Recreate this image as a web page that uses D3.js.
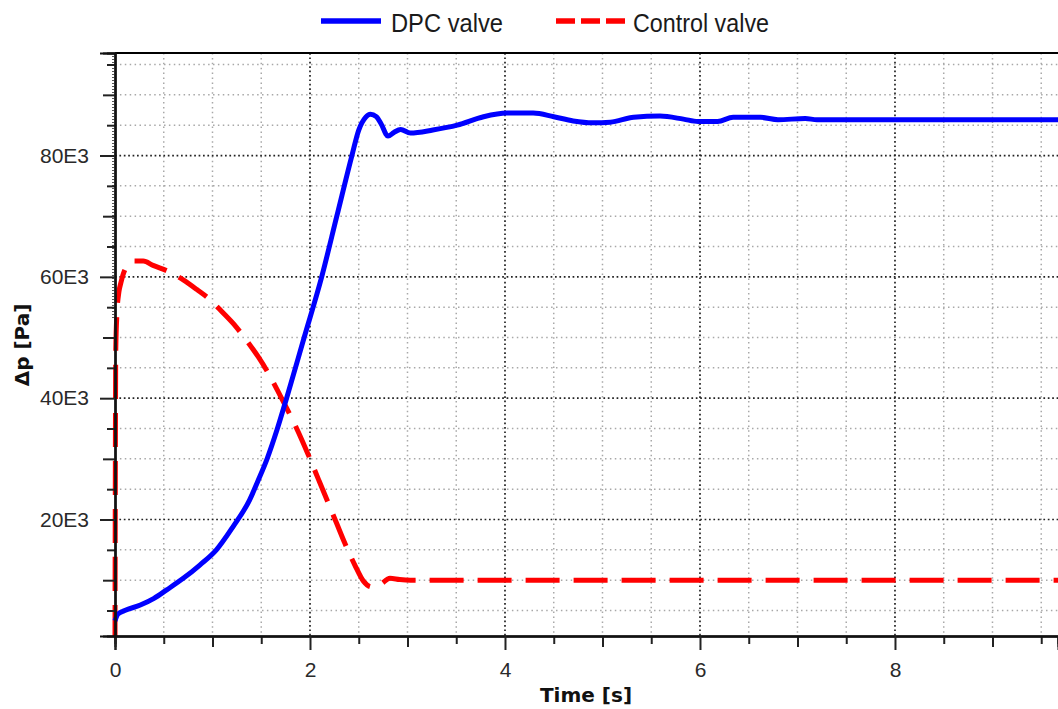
<!DOCTYPE html>
<html><head><meta charset="utf-8">
<script src="https://cdn.jsdelivr.net/npm/d3@7"></script>
<style>
html,body{margin:0;padding:0;background:#fff;}
svg{display:block;}
</style></head>
<body>
<svg id="chart" width="1058" height="709"></svg>
<script>
// ---- data (time in s, pressure difference in Pa) ----
const dpcTime = [0,0.03,0.1,0.26,0.4,0.53,0.7,0.87,1.04,1.21,1.38,1.47,1.56,1.66,1.76,1.94,2.12,2.275,2.43,2.50,2.57,2.62,2.68,2.73,2.80,2.86,2.93,3.03,3.26,3.51,3.78,4.02,4.29,4.5,4.7,4.9,5.08,5.32,5.59,5.83,5.98,6.18,6.34,6.62,6.8,7.08,7.2,9.7];
const dpcValue = [3300,4400,5000,5900,7000,8400,10300,12500,15000,18800,23200,26500,30000,34700,40000,50000,60000,70000,80000,84200,86300,86800,86400,85200,83200,83800,84300,83700,84200,85000,86400,87000,87000,86400,85700,85400,85500,86300,86500,86000,85600,85600,86300,86300,85900,86100,85900,85900];
const ctrlTime = [0,0.008,0.02,0.04,0.06,0.1,0.19,0.29,0.39,0.56,0.70,0.84,0.97,1.1,1.24,1.36,1.47,1.57,1.66,1.75,1.84,1.92,2.0,2.09,2.18,2.27,2.36,2.46,2.55,2.63,2.72,2.82,2.92,3.03,9.7];
const ctrlValue = [300,48000,54000,57500,59000,61100,62600,62600,61900,60800,59500,57900,56300,54200,51800,49300,46800,44200,41500,38700,35800,33000,30000,26500,23000,19500,16000,12500,9800,8900,9300,10300,10100,10000,10000];
const seriesNames = ["DPC valve","Control valve"];
const xMajorTicks = [0,2,4,6,8];
const yMajorTicks = [20000,40000,60000,80000];

const svg = d3.select("#chart");
const L = 115, R = 1058, T = 53, B = 636;
const x = d3.scaleLinear().domain([0, 9.672]).range([L, R]);
const y = d3.scaleLinear().domain([800, 96900]).range([B, T]);

const xHalf = d3.range(0, 9.7, 0.5);
const yFive = d3.range(5000, 96000, 5000);

// grid
const grid = svg.append("g");
grid.selectAll(".vg").data(xHalf.filter(v => v > 0 && v % 2 !== 0)).join("line")
  .attr("x1", d => x(d)).attr("x2", d => x(d)).attr("y1", T).attr("y2", B)
  .attr("stroke", "#a8a8a8").attr("stroke-width", 1.5).attr("stroke-dasharray", "1.5,3.4");
grid.selectAll(".hg").data(yFive.filter(v => v % 20000 !== 0)).join("line")
  .attr("x1", L).attr("x2", R).attr("y1", d => y(d)).attr("y2", d => y(d))
  .attr("stroke", "#a8a8a8").attr("stroke-width", 1.5).attr("stroke-dasharray", "1.5,3.4");
grid.selectAll(".vgm").data(xMajorTicks.filter(v => v > 0)).join("line")
  .attr("x1", d => x(d)).attr("x2", d => x(d)).attr("y1", T).attr("y2", B)
  .attr("stroke", "#222").attr("stroke-width", 1.7).attr("stroke-dasharray", "1.7,2.7");
grid.selectAll(".hgm").data(yMajorTicks).join("line")
  .attr("x1", L).attr("x2", R).attr("y1", d => y(d)).attr("y2", d => y(d))
  .attr("stroke", "#222").attr("stroke-width", 1.7).attr("stroke-dasharray", "1.7,2.7");
// dotted strip along the left axis (top part)
grid.append("line").attr("x1", L - 2).attr("x2", L - 2).attr("y1", T).attr("y2", 320)
  .attr("stroke", "#222").attr("stroke-width", 1.5).attr("stroke-dasharray", "1,2");

// clip
svg.append("clipPath").attr("id", "clip").append("rect")
  .attr("x", L - 3).attr("y", T).attr("width", R - L + 3).attr("height", B - T);

const line = d3.line().x(d => x(d[0])).y(d => y(d[1])).curve(d3.curveMonotoneX);
const plot = svg.append("g").attr("clip-path", "url(#clip)");
plot.append("path").datum(ctrlTime.map((t, i) => [t, ctrlValue[i]]))
  .attr("d", line).attr("fill", "none").attr("stroke", "#ff0000").attr("stroke-width", 5)
  .attr("stroke-dasharray", "34,14");
plot.append("path").datum(dpcTime.map((t, i) => [t, dpcValue[i]]))
  .attr("d", line).attr("fill", "none").attr("stroke", "#0000ff").attr("stroke-width", 5);

// axes frame
svg.append("line").attr("x1", L).attr("x2", R).attr("y1", T).attr("y2", T).attr("stroke", "#000").attr("stroke-width", 2);

function styleAxis(g) {
  g.select(".domain").attr("stroke", "#111").attr("stroke-width", 2);
  g.selectAll(".tick line").attr("stroke", "#222").attr("stroke-width", 2);
  g.selectAll(".tick text").attr("fill", "#2a2a2a").style("font-family", "'Liberation Sans', Arial, sans-serif").style("font-size", "21px");
}
// x axis: half, unit, major ticks
svg.append("g").attr("transform", `translate(0,${B})`)
  .call(d3.axisBottom(x).tickValues(xHalf.filter(v => v % 1 !== 0)).tickSize(8).tickFormat(""))
  .call(styleAxis);
svg.append("g").attr("transform", `translate(0,${B})`)
  .call(d3.axisBottom(x).tickValues(d3.range(1, 10, 2)).tickSize(11).tickFormat(""))
  .call(styleAxis);
const xa = svg.append("g").attr("transform", `translate(0,${B})`)
  .call(d3.axisBottom(x).tickValues(xMajorTicks).tickSize(14).tickPadding(14).tickFormat(d3.format("d")))
  .call(styleAxis);
xa.selectAll(".tick text").attr("dy", 0).attr("y", 41);

// y axis
svg.append("g").attr("transform", `translate(${L},0)`)
  .call(d3.axisLeft(y).tickValues(yFive.filter(v => v % 10000 !== 0)).tickSize(8).tickFormat(""))
  .call(styleAxis);
svg.append("g").attr("transform", `translate(${L},0)`)
  .call(d3.axisLeft(y).tickValues(d3.range(10000, 96000, 20000)).tickSize(12).tickFormat(""))
  .call(styleAxis);
const ya = svg.append("g").attr("transform", `translate(${L},0)`)
  .call(d3.axisLeft(y).tickValues(yMajorTicks).tickSize(15).tickPadding(10).tickFormat(d => (d / 1000) + "E3"))
  .call(styleAxis);
ya.selectAll(".tick text").attr("x", -26);

// axis titles
svg.append("text").attr("x", 586).attr("y", 702).attr("text-anchor", "middle")
  .style("font-family", "'DejaVu Sans', Verdana, sans-serif").style("font-weight", "bold").style("font-size", "20px")
  .attr("fill", "#111").text("Time [s]");
svg.append("text").attr("transform", "translate(29,345) rotate(-90)").attr("text-anchor", "middle")
  .style("font-family", "'DejaVu Sans', Verdana, sans-serif").style("font-weight", "bold").style("font-size", "20px")
  .attr("fill", "#111").text("Δp [Pa]");

// legend
const leg = svg.append("g").style("font-family", "'Liberation Sans', Arial, sans-serif").style("font-size", "26px");
leg.append("line").attr("x1", 321).attr("x2", 381).attr("y1", 21).attr("y2", 21).attr("stroke", "#0000ff").attr("stroke-width", 5.5);
leg.append("text").attr("x", 391).attr("y", 32).attr("fill", "#1a1a1a")
  .attr("textLength", 112).attr("lengthAdjust", "spacingAndGlyphs").text(seriesNames[0]);
leg.append("line").attr("x1", 556).attr("x2", 625).attr("y1", 21).attr("y2", 21).attr("stroke", "#ff0000").attr("stroke-width", 5.5).attr("stroke-dasharray", "19,6");
leg.append("text").attr("x", 633).attr("y", 32).attr("fill", "#1a1a1a")
  .attr("textLength", 136).attr("lengthAdjust", "spacingAndGlyphs").text(seriesNames[1]);
</script>
</body></html>
